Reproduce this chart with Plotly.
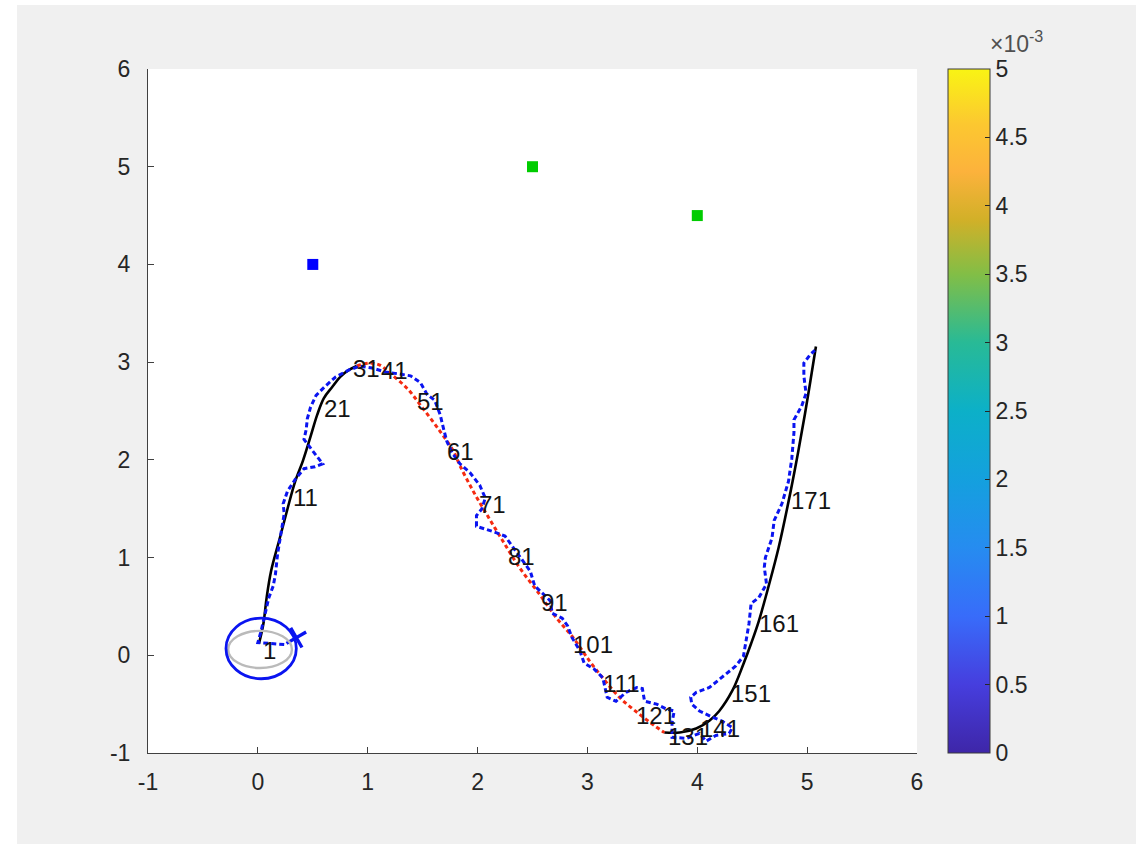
import plotly.graph_objects as go

# Reference path, first leg (solid black)
truth_a_x = [0.01, 0.05, 0.08, 0.12, 0.20, 0.27, 0.34, 0.41, 0.48, 0.54, 0.60, 0.68, 0.75, 0.83, 0.90]
truth_a_y = [0.12, 0.32, 0.59, 0.86, 1.20, 1.50, 1.78, 1.99, 2.24, 2.46, 2.63, 2.75, 2.85, 2.92, 2.96]

# Reference path, middle leg (red dotted)
truth_b_x = [0.90, 1.02, 1.11, 1.21, 1.36, 1.50, 1.66, 1.78, 1.84, 1.96, 2.09, 2.23, 2.38, 2.56, 2.72,
             2.87, 3.02, 3.16, 3.30, 3.47, 3.61, 3.70]
truth_b_y = [2.96, 2.99, 2.97, 2.88, 2.73, 2.53, 2.29, 2.09, 1.94, 1.68, 1.43, 1.17, 0.90, 0.63, 0.38,
             0.18, -0.06, -0.26, -0.44, -0.60, -0.72, -0.79]

# Reference path, last leg (solid black)
truth_c_x = [3.70, 3.84, 3.99, 4.11, 4.20, 4.32, 4.42, 4.49, 4.56, 4.65, 4.74, 4.85, 4.92, 4.98, 5.03, 5.08]
truth_c_y = [-0.79, -0.79, -0.75, -0.67, -0.57, -0.36, -0.09, 0.12, 0.35, 0.71, 1.10, 1.68, 2.09, 2.47,
             2.81, 3.16]

# Estimated path (blue dotted)
est_x = [0.24, 0.00, 0.03, 0.05, 0.07, 0.10, 0.14, 0.16, 0.18, 0.21, 0.24, 0.23, 0.27, 0.34, 0.42, 0.52,
         0.59, 0.50, 0.42, 0.44, 0.45, 0.48, 0.53, 0.61, 0.71, 0.83, 0.93, 1.04, 1.16, 1.28, 1.39, 1.48,
         1.54, 1.61, 1.66, 1.69, 1.72, 1.77, 1.84, 1.93, 2.02, 2.07, 2.04, 1.99, 1.99, 2.13, 2.25, 2.32,
         2.40, 2.48, 2.52, 2.59, 2.66, 2.68, 2.77, 2.82, 2.86, 2.93, 2.97, 3.06, 3.14, 3.16, 3.18, 3.26,
         3.35, 3.45, 3.50, 3.52, 3.63, 3.72, 3.79, 3.77, 3.77, 3.90, 4.02, 4.08, 4.17, 4.29, 4.32, 4.22,
         4.13, 4.02, 3.95, 3.94, 3.99, 4.11, 4.22, 4.35, 4.42, 4.44, 4.47, 4.49, 4.56, 4.63, 4.61, 4.62,
         4.68, 4.70, 4.77, 4.83, 4.86, 4.88, 4.88, 4.95, 4.99, 4.97, 4.97, 5.03, 5.07]
est_y = [0.11, 0.13, 0.25, 0.35, 0.46, 0.59, 0.71, 0.83, 1.04, 1.24, 1.45, 1.55, 1.68, 1.80, 1.91, 1.93,
         1.96, 2.09, 2.21, 2.31, 2.42, 2.54, 2.66, 2.75, 2.85, 2.92, 2.96, 2.94, 2.90, 2.88, 2.86, 2.79,
         2.67, 2.61, 2.46, 2.32, 2.19, 2.07, 1.96, 1.87, 1.74, 1.61, 1.50, 1.43, 1.32, 1.27, 1.22, 1.11,
         0.99, 0.86, 0.71, 0.64, 0.56, 0.43, 0.38, 0.30, 0.18, 0.05, -0.08, -0.14, -0.23, -0.33, -0.43,
         -0.47, -0.38, -0.33, -0.34, -0.47, -0.50, -0.55, -0.57, -0.69, -0.84, -0.85, -0.80, -0.88, -0.82,
         -0.80, -0.74, -0.67, -0.63, -0.57, -0.50, -0.43, -0.38, -0.33, -0.23, -0.11, -0.01, 0.11, 0.32,
         0.53, 0.59, 0.73, 0.90, 1.00, 1.20, 1.38, 1.55, 1.78, 2.01, 2.28, 2.41, 2.55, 2.68, 2.86, 2.99,
         3.08, 3.12]

# Step labels along the path
step_labels = ["1", "11", "21", "31", "41", "51", "61", "71", "81", "91", "101", "111", "121", "131",
               "141", "151", "161", "171"]
step_x = [0.04, 0.31, 0.59, 0.86, 1.11, 1.44, 1.71, 2.00, 2.27, 2.57, 2.86, 3.13, 3.43, 3.72, 4.02,
          4.30, 4.55, 4.84]
step_y = [0.05, 1.61, 2.53, 2.93, 2.91, 2.60, 2.09, 1.54, 1.01, 0.54, 0.11, -0.29, -0.62, -0.83, -0.75,
          -0.39, 0.33, 1.58]

# Landmarks
landmark_blue_x = [0.5]
landmark_blue_y = [4.0]
landmark_green_x = [2.5, 4.0]
landmark_green_y = [5.0, 4.5]

# Current pose marker
pose_x = [0.35]
pose_y = [0.18]

# Uncertainty ellipses: (center x, center y, semi-axis x, semi-axis y)
cov_blue = [0.03, 0.07, 0.32, 0.31]
cov_gray = [0.02, 0.06, 0.29, 0.19]

# Colour bar range and ticks
cbar_range = [0.0, 0.005]
cbar_tickvals = [0.0, 0.0005, 0.001, 0.0015, 0.002, 0.0025, 0.003, 0.0035, 0.004, 0.0045, 0.005]
cbar_ticktext = ["0", "0.5", "1", "1.5", "2", "2.5", "3", "3.5", "4", "4.5", "5"]

axis_ticks = [-1, 0, 1, 2, 3, 4, 5, 6]

parula = [
    [0.000, "rgb(62,38,168)"],
    [0.100, "rgb(70,62,222)"],
    [0.200, "rgb(56,108,250)"],
    [0.300, "rgb(38,140,240)"],
    [0.400, "rgb(20,160,222)"],
    [0.500, "rgb(12,176,200)"],
    [0.600, "rgb(40,186,150)"],
    [0.700, "rgb(130,190,70)"],
    [0.780, "rgb(210,176,40)"],
    [0.850, "rgb(252,178,60)"],
    [0.920, "rgb(252,200,48)"],
    [1.000, "rgb(249,244,20)"],
]

FONT = "Arial, Liberation Sans, Helvetica, sans-serif"
TXT = "#262626"

fig = go.Figure()

# Colour bar carrier (invisible point)
fig.add_trace(go.Scatter(
    x=[step_x[0]], y=[step_y[0]], mode="markers", hoverinfo="skip", showlegend=False,
    marker=dict(size=0.1, opacity=0, color=cbar_range, cmin=cbar_range[0], cmax=cbar_range[1],
                colorscale=parula, showscale=True,
                colorbar=dict(
                    x=1.0403, xanchor="left", xpad=0, y=0.5, yanchor="middle", ypad=0,
                    len=1.0, lenmode="fraction", thickness=42, thicknessmode="pixels",
                    outlinecolor="#3a3a3a", outlinewidth=1,
                    tickvals=cbar_tickvals, ticktext=cbar_ticktext,
                    ticks="inside", ticklen=5, tickcolor=TXT,
                    tickfont=dict(family=FONT, size=23, color=TXT),
                ))))

line_common = dict(mode="lines", hoverinfo="skip", showlegend=False)
fig.add_trace(go.Scatter(x=truth_a_x, y=truth_a_y, line=dict(color="black", width=2.6, shape="spline"),
                         **line_common))
fig.add_trace(go.Scatter(x=truth_c_x, y=truth_c_y, line=dict(color="black", width=2.6, shape="spline"),
                         **line_common))
fig.add_trace(go.Scatter(x=truth_b_x, y=truth_b_y,
                         line=dict(color="#f52a10", width=3, dash="4px,3px", shape="spline"),
                         **line_common))
fig.add_trace(go.Scatter(x=est_x, y=est_y,
                         line=dict(color="#0a14f0", width=3, dash="5px,3px"),
                         **line_common))

# Landmarks
fig.add_trace(go.Scatter(x=landmark_blue_x, y=landmark_blue_y, mode="markers", hoverinfo="skip",
                         showlegend=False, marker=dict(symbol="square", size=11, color="#0000ff")))
fig.add_trace(go.Scatter(x=landmark_green_x, y=landmark_green_y, mode="markers", hoverinfo="skip",
                         showlegend=False, marker=dict(symbol="square", size=11, color="#00cc00")))

# Pose marker
fig.add_trace(go.Scatter(x=pose_x, y=pose_y, mode="markers", hoverinfo="skip", showlegend=False,
                         marker=dict(symbol="x-thin", size=16, angle=15,
                                     line=dict(color="#0a14f0", width=3.4))))

# Covariance ellipses
for cov, colour, wid in ((cov_gray, "#bababa", 2.4), (cov_blue, "#0a14f0", 2.8)):
    cx, cy, ax, ay = cov
    fig.add_shape(type="circle", xref="x", yref="y", x0=cx - ax, x1=cx + ax, y0=cy - ay, y1=cy + ay,
                  line=dict(color=colour, width=wid), layer="above")

# Step labels
for lbl, lx, ly in zip(step_labels, step_x, step_y):
    fig.add_annotation(x=lx, y=ly, text=lbl, showarrow=False, xanchor="left", yanchor="middle",
                       borderpad=0, font=dict(family=FONT, size=24, color="#141414"))

# Exponent label of the colour bar
fig.add_annotation(xref="paper", yref="paper", x=1.092, y=1.014, xanchor="left", yanchor="bottom",
                   text="\u00d710<sup>-3</sup>", showarrow=False,
                   font=dict(family=FONT, size=23, color="#505050"))

# White frame around the grey figure area
for x0, x1, y0, y1 in ((-0.1925, -0.1703, -0.14, 1.11), (-0.1925, 1.296, 1.0936, 1.11),
                       (1.2848, 1.296, -0.14, 1.11)):
    fig.add_shape(type="rect", xref="paper", yref="paper", x0=x0, x1=x1, y0=y0, y1=y1,
                  line=dict(width=0), fillcolor="white", layer="below")

axis_common = dict(
    range=[-1, 6], tickvals=axis_ticks, ticktext=[str(t) for t in axis_ticks],
    showgrid=False, zeroline=False, showline=True, linecolor="#404040", linewidth=1,
    ticks="inside", ticklen=6, tickcolor="#404040", mirror=False,
    tickfont=dict(family=FONT, size=23, color=TXT),
)
fig.update_xaxes(**axis_common, ticklabelstandoff=8)
fig.update_yaxes(**axis_common, ticklabelstandoff=12)

fig.update_layout(
    width=1144, height=844,
    margin=dict(l=148, r=227, t=69, b=91, pad=0),
    paper_bgcolor="#f0f0f0", plot_bgcolor="#ffffff",
    showlegend=False,
)

fig.write_html("out.html", config={"displayModeBar": False})
